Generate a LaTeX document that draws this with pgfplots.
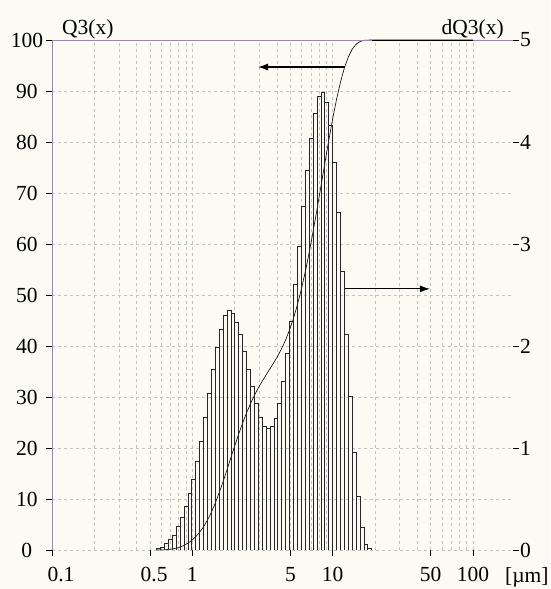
\documentclass[border=0pt]{standalone}
\usepackage{fontspec}
\setmainfont{Liberation Serif}
\usepackage{pgfplots}
\pgfplotsset{compat=1.18}
\usetikzlibrary{arrows.meta}
\definecolor{bg}{RGB}{253,250,243}
\definecolor{axcol}{RGB}{155,135,172}
\definecolor{gridcol}{RGB}{195,195,195}
\newcommand{\lbl}{\fontsize{21.5}{25}\selectfont}
\begin{document}
\begin{tikzpicture}
\path[use as bounding box, fill=bg] (-52pt,-39pt) rectangle (498pt,550pt);
\begin{axis}[
  at={(0pt,0pt)}, anchor=south west,
  scale only axis, width=461pt, height=510pt,
  xmode=log, xmin=0.1, xmax=193, ymin=0, ymax=100,
  axis line style={draw=none},
  xtick={0.1,0.5,1,5,10,50,100},
  xticklabels={\hspace*{18pt}0.1,\hspace*{8pt}0.5,1,5,10,50,100},
  minor xtick={0.2,0.3,0.4,0.6,0.7,0.8,0.9,2,3,4,6,7,8,9,20,30,40,60,70,80,90},
  ytick={0,10,...,100},
  xtick pos=bottom, ytick pos=left,
  tick align=outside,
  major tick length=6pt, minor tick length=0pt,
  tick style={black, line width=0.6pt},
  xmajorgrids, xminorgrids, ymajorgrids,
  grid style={gridcol, dash pattern=on 3pt off 3pt, line width=0.5pt},
  minor grid style={gridcol, dash pattern=on 3pt off 3pt, line width=0.5pt},
  tick label style={font=\lbl},
  /pgf/number format/assume math mode=true,
  yticklabel style={anchor=east, text width=32pt, align=center, inner sep=0pt, xshift=-3pt},
  xticklabel style={inner sep=2pt, yshift=-9pt},
  clip=false,
]
\addplot[black, line width=0.6pt] coordinates {
(0.5574,0) (0.5943,0.015) (0.6337,0.046) (0.6757,0.107) (0.7205,0.208)
(0.7683,0.355) (0.8192,0.589) (0.8735,0.914) (0.9314,1.346) (0.9931,1.909)
(1.0589,2.615) (1.1291,3.493) (1.2039,4.570) (1.2837,5.885) (1.3688,7.444)
(1.4595,9.241) (1.5562,11.257) (1.6593,13.456) (1.7693,15.786) (1.8866,18.168)
(2.0116,20.524) (2.1449,22.789) (2.2871,24.936) (2.4387,26.917) (2.6003,28.714)
(2.7726,30.339) (2.9564,31.802) (3.1523,33.122) (3.3612,34.356) (3.5840,35.569)
(3.8215,36.798) (4.0748,38.108) (4.3449,39.570) (4.6328,41.246) (4.9399,43.206)
(5.2673,45.481) (5.6164,48.121) (5.9886,51.142) (6.3855,54.560) (6.8087,58.343)
(7.2599,62.440) (7.7411,66.787) (8.2541,71.301) (8.8012,75.856) (9.3845,80.309)
(10.0064,84.539) (10.6696,88.393) (11.3767,91.754) (12.1307,94.526) (12.9347,96.669)
(13.7919,98.202) (14.7060,99.172) (15.6806,99.705) (16.7198,99.934) (17.8279,99.985)
(19.0094,100) (100,100)
};
\draw[axcol, line width=0.8pt] (rel axis cs:0,0) -- (rel axis cs:0,1) -- (rel axis cs:1,1);
\draw[black, line width=0.8pt] (axis cs:19.0094,100) -- (axis cs:100,100);
\draw[-{Latex[length=10pt,width=7pt]}, line width=1.1pt] (axis cs:12.2,94.7) -- (axis cs:2.94,94.7);
\draw[-{Latex[length=10pt,width=7pt]}, line width=1.1pt] (axis cs:12.2,51.2) -- (axis cs:49.4,51.2);
\node[anchor=base west, font=\lbl, inner sep=0pt, xshift=10pt, yshift=5pt] at (rel axis cs:0,1) {Q3(x)};
\node[anchor=base east, font=\lbl, inner sep=0pt, xshift=-9pt, yshift=5pt] at (rel axis cs:1,1) {dQ3(x)};
\node[anchor=base west, font=\lbl, inner sep=0pt, yshift=-32pt] at (rel axis cs:0.9826,0) {[µm]};
\end{axis}
\begin{axis}[
  at={(0pt,0pt)}, anchor=south west,
  scale only axis, width=461pt, height=510pt,
  xmode=log, xmin=0.1, xmax=193, ymin=0, ymax=5,
  axis line style={draw=none},
  xtick=\empty, ytick={0,1,2,3,4,5},
  ytick pos=right, yticklabel pos=right,
  tick align=outside, major tick length=6pt,
  tick style={black, line width=0.6pt},
  tick label style={font=\lbl},
  /pgf/number format/assume math mode=true,
  yticklabel style={anchor=west, inner sep=1pt},
]
\addplot[ybar interval, draw=black!85, fill=none, line width=0.85pt] coordinates {
(0.5574,0.015) (0.5943,0.03) (0.6337,0.06) (0.6757,0.10) (0.7205,0.145)
(0.7683,0.23) (0.8192,0.32) (0.8735,0.425) (0.9314,0.555) (0.9931,0.695)
(1.0589,0.865) (1.1291,1.06) (1.2039,1.295) (1.2837,1.535) (1.3688,1.77)
(1.4595,1.985) (1.5562,2.165) (1.6593,2.295) (1.7693,2.345) (1.8866,2.32)
(2.0116,2.23) (2.1449,2.115) (2.2871,1.95) (2.4387,1.77) (2.6003,1.60)
(2.7726,1.44) (2.9564,1.30) (3.1523,1.215) (3.3612,1.195) (3.5840,1.21)
(3.8215,1.29) (4.0748,1.44) (4.3449,1.65) (4.6328,1.93) (4.9399,2.24)
(5.2673,2.60) (5.6164,2.975) (5.9886,3.365) (6.3855,3.725) (6.8087,4.035)
(7.2599,4.28) (7.7411,4.445) (8.2541,4.485) (8.8012,4.385) (9.3845,4.165)
(10.0064,3.795) (10.6696,3.31) (11.3767,2.73) (12.1307,2.11) (12.9347,1.51)
(13.7919,0.955) (14.7060,0.525) (15.6806,0.225) (16.7198,0.05) (17.8279,0.015)
(19.0094,0)
};
\end{axis}
\end{tikzpicture}
\end{document}
